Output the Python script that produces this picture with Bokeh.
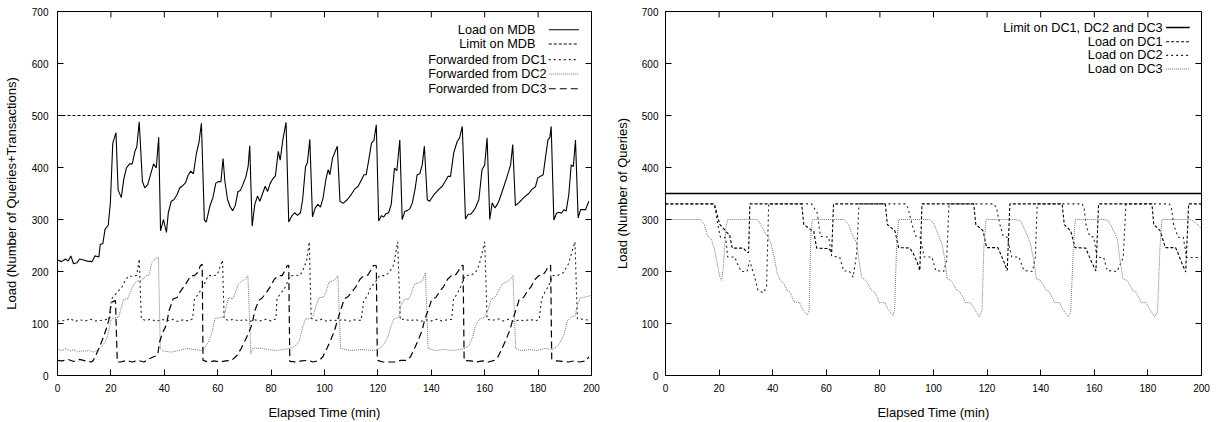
from bokeh.plotting import figure
from bokeh.layouts import row
from bokeh.models import FixedTicker, Range1d, Label
from bokeh.embed import file_html
from bokeh.resources import INLINE

FONT = "Liberation Sans"

X_TICKS = [0, 20, 40, 60, 80, 100, 120, 140, 160, 180, 200]
Y_TICKS = [0, 100, 200, 300, 400, 500, 600, 700]
X_LABEL = "Elapsed Time (min)"
Y_LABEL_LEFT = "Load (Number of Queries+Transactions)"
Y_LABEL_RIGHT = "Load (Number of Queries)"

# ---------------- left panel data (time min, load) ----------------
MDB_LOAD = [(0, 222), (1.5, 219), (3, 224), (4, 220), (5, 230), (6, 215), (7.3, 217), (8.3, 224), (9.8, 222),
            (11.2, 220), (13, 219), (14, 230), (15.5, 228), (16, 252), (17, 254), (17.8, 281), (19, 289),
            (19.8, 332), (20.7, 447), (21.9, 467), (22.7, 357), (23.9, 342), (24.8, 377), (25.8, 399),
            (27, 407), (28, 407), (29, 431), (29.7, 440), (30.6, 488), (31.8, 373), (32.7, 361), (33.8, 367),
            (35, 389), (36, 407), (37, 399), (37.9, 458), (38.6, 278), (39.7, 300), (40.8, 275), (41.5, 313),
            (42.6, 335), (43.6, 338), (44.8, 348), (45.8, 361), (46.9, 365), (48, 371), (48.8, 384),
            (49.9, 393), (50.9, 388), (52, 426), (53, 449), (53.9, 485), (55, 299), (55.7, 295), (57.1, 326),
            (58.2, 342), (59.3, 370), (60.3, 373), (61.2, 372), (62, 417), (62.7, 373), (63.7, 338),
            (64.7, 324), (65.6, 317), (66.6, 327), (67.6, 354), (68.5, 356), (69.5, 368), (70.6, 383),
            (71.4, 402), (72, 442), (72.9, 287), (73.9, 329), (74.9, 345), (75.8, 335), (76.8, 350),
            (77.8, 364), (78.7, 354), (79.7, 370), (80.5, 377), (81.6, 384), (82.7, 431), (83.4, 414),
            (84.4, 453), (85.6, 487), (86.6, 295), (87.8, 307), (88.8, 313), (89.9, 308), (91, 313),
            (91.8, 338), (92.9, 402), (93.6, 409), (94.5, 454), (95.5, 305), (96.5, 322), (97.5, 329),
            (98.5, 324), (99.5, 342), (100.5, 377), (101.4, 396), (102, 386), (103, 418), (104.8, 441),
            (105.8, 335), (107, 331), (108.5, 338), (110, 348), (111.4, 359), (112.6, 364), (113.9, 377),
            (114.8, 386), (115.6, 386), (116.6, 415), (117.6, 447), (118.5, 452), (119.4, 482), (120.3, 297),
            (121.3, 307), (122.2, 305), (123, 311), (124, 313), (125, 329), (126.2, 399), (127.1, 394),
            (128.2, 453), (129.1, 300), (130.1, 316), (131, 317), (132, 321), (132.9, 332), (133.9, 358),
            (134.7, 386), (135.7, 388), (136.6, 405), (137.4, 441), (138.5, 338), (139.4, 335), (141, 348),
            (142.8, 358), (144.1, 364), (145.3, 374), (146.3, 383), (147.2, 383), (148.4, 428), (149.7, 450),
            (150.6, 457), (151.6, 479), (152.8, 301), (153.8, 310), (154.7, 310), (155.7, 316), (156.5, 322),
            (157.8, 338), (159, 396), (160, 405), (160.9, 457), (161.9, 300), (162.8, 332), (163.8, 322),
            (164.7, 329), (165.5, 338), (167.2, 364), (168.4, 383), (169.7, 405), (170.5, 444), (171.5, 327),
            (172.7, 332), (173.9, 338), (175.2, 345), (176.5, 350), (177.7, 358), (179, 363), (179.9, 380),
            (180.9, 383), (181.9, 386), (182.8, 421), (183.7, 453), (184.4, 458), (184.9, 479), (185.9, 299),
            (186.9, 312), (187.8, 314), (188.7, 312), (189.7, 319), (190.5, 316), (191.5, 348), (192.4, 405),
            (193.2, 402), (194, 453), (195, 303), (195.9, 319), (196.9, 319), (197.8, 319), (199, 335)]

MDB_LIMIT = 500

DC1_FWD = [(0, 104), (1.5, 106), (3, 105), (4.7, 110), (6.5, 104), (8.5, 107), (10.5, 105), (12.4, 108),
           (14.3, 105), (16.3, 106), (18.5, 108), (19.6, 110), (20.2, 147), (21.4, 154), (22.9, 163),
           (23.9, 168), (25, 179), (26.5, 191), (28.7, 191), (29.7, 193), (30.6, 224), (31.4, 109), (33, 106),
           (35, 108), (37, 104), (39, 108), (41, 105), (43, 108), (45, 104), (47, 107), (49, 105), (50.6, 109),
           (51.3, 147), (52.8, 157), (53.9, 166), (55, 176), (56.4, 192), (58.3, 192), (59.8, 193), (60.8, 208),
           (61.8, 222), (62.4, 109), (64, 106), (66, 108), (68, 105), (70, 108), (72, 104), (74, 107), (76, 105),
           (78, 108), (80, 105), (81.8, 109), (82.2, 147), (83.4, 157), (84.5, 163), (85.6, 173), (87, 191),
           (88.9, 193), (90.7, 192), (91.8, 201), (93.3, 221), (94.3, 257), (95, 110), (97, 106), (99, 108),
           (101, 104), (103, 107), (105, 105), (107, 108), (109, 104), (111, 107), (113.7, 106), (114.7, 144),
           (116.2, 154), (117.3, 170), (119, 179), (120.6, 192), (122.7, 192), (124.2, 198), (126, 214),
           (127.4, 257), (128.4, 107), (130, 109), (132, 105), (134, 108), (136, 104), (138, 107), (140, 105),
           (142, 108), (144, 105), (146, 107), (147.6, 108), (148.3, 147), (149.7, 157), (151.2, 173),
           (152.6, 192), (154.8, 193), (156.6, 198), (158, 214), (160, 257), (160.9, 108), (163, 106),
           (165, 109), (167, 105), (169, 108), (171, 104), (173, 107), (175, 105), (177, 108), (179, 105),
           (180.4, 108), (181.3, 147), (182.5, 160), (184, 173), (185.4, 192), (187.6, 193), (189.5, 198),
           (191.3, 214), (193.8, 257), (194.7, 109), (197, 108), (199.3, 106)]

DC2_FWD = [(0, 50), (1.7, 48), (3.2, 52), (4.7, 47), (6.1, 50), (7.6, 45), (9, 47), (10.5, 47), (12, 48),
           (13.4, 45), (14.9, 48), (16.3, 55), (17.8, 64), (19, 80), (20, 106), (21, 110), (22.2, 112),
           (22.9, 112), (23.6, 125), (24.8, 147), (26.2, 147), (27.3, 160), (28.7, 176), (29.7, 182),
           (30.9, 182), (32.1, 185), (33.1, 192), (34.3, 193), (35.3, 217), (36.7, 225), (37.8, 227),
           (38.5, 52), (39.7, 47), (42.6, 45), (45.5, 48), (48.4, 52), (51.3, 50), (54.2, 48), (55, 52),
           (56.4, 64), (57.9, 83), (58.9, 109), (60.8, 112), (62.2, 112), (63, 128), (64.1, 150), (65.6, 147),
           (66.6, 160), (67.8, 176), (69.1, 182), (70.3, 185), (71.3, 192), (72.4, 42), (73.2, 53), (76.1, 52),
           (79, 50), (81.9, 48), (84.8, 50), (87.8, 53), (89.2, 58), (90.7, 68), (91.8, 93), (92.9, 109),
           (94.3, 109), (95.8, 115), (96.8, 134), (98, 150), (99.4, 150), (100.6, 160), (101.6, 179),
           (103.1, 182), (104.1, 185), (105, 192), (106, 52), (109.6, 48), (114, 50), (118.4, 48), (120.6, 52),
           (122, 58), (123.5, 71), (125, 96), (126, 109), (127.8, 112), (128.6, 134), (130, 147), (131.5, 147),
           (132.7, 161), (133.8, 176), (135.3, 178), (136.6, 182), (137.8, 198), (138.8, 52), (141.7, 48),
           (144.6, 50), (147.5, 48), (150.4, 50), (152.6, 52), (154.1, 58), (155.5, 74), (156.6, 96),
           (158, 108), (159.9, 112), (161.4, 128), (162.4, 147), (163.8, 150), (165, 161), (166.5, 176),
           (167.9, 179), (169.4, 184), (170.6, 192), (171.6, 52), (173.8, 48), (176.7, 50), (179.6, 48),
           (182.5, 52), (185.4, 50), (186.9, 55), (188.3, 64), (189.8, 80), (191, 106), (192.4, 112),
           (193.9, 115), (194.5, 131), (195.7, 149), (197.1, 150), (198.5, 152), (199.7, 154)]

DC3_FWD = [(0, 29), (1.7, 28), (3.9, 31), (6.1, 27), (8.3, 31), (10.5, 28), (12.7, 26), (13.4, 29),
           (14.9, 45), (16, 58), (17, 71), (18.1, 87), (19.2, 106), (20, 136), (20.7, 142), (21.7, 144),
           (22.4, 26), (23.6, 26), (25.8, 29), (28, 26), (30.2, 29), (32.4, 26), (33.8, 31), (36, 36),
           (37.5, 39), (38.2, 64), (39.4, 83), (40.4, 93), (41.1, 106), (41.8, 125), (43.3, 147), (44.8, 150),
           (45.8, 160), (46.9, 168), (48.4, 179), (49.9, 192), (51.3, 192), (52.5, 198), (53.5, 211),
           (54.2, 214), (54.5, 29), (56.4, 26), (58.6, 28), (60.8, 26), (63, 28), (65.2, 29), (67.3, 39),
           (68.8, 52), (70.3, 68), (71.7, 83), (72.9, 99), (73.9, 125), (75.4, 144), (76.8, 150), (78.3, 160),
           (79.7, 171), (81.2, 185), (82.7, 192), (84.1, 192), (85.1, 201), (86, 211), (86.6, 212), (87, 27),
           (89.2, 26), (91.4, 28), (93.6, 29), (95.8, 26), (98, 29), (99.4, 36), (100.9, 52), (102.3, 68),
           (103.8, 87), (105, 109), (106, 125), (107.4, 147), (108.9, 152), (110.3, 161), (111.8, 171),
           (113.3, 185), (114.7, 192), (116.2, 193), (117.2, 201), (118.4, 212), (119.4, 211), (119.8, 29),
           (122, 26), (124.2, 26), (126.4, 26), (128.6, 29), (130.8, 29), (132.2, 36), (133.7, 52), (135.1, 68),
           (136.6, 87), (137.6, 109), (138.8, 125), (140.2, 147), (141.7, 150), (143.1, 161), (144.6, 171),
           (146.1, 185), (147.5, 192), (149, 193), (150.1, 201), (151.2, 211), (151.9, 212), (152.3, 29),
           (154.8, 28), (157, 26), (159.2, 28), (161.4, 26), (163.6, 29), (165, 36), (166.5, 52), (167.9, 68),
           (169.4, 87), (170.6, 109), (171.6, 125), (173, 147), (174.5, 150), (175.9, 161), (177.4, 171),
           (178.9, 185), (180.3, 192), (181.8, 193), (182.9, 201), (184, 211), (184.7, 212), (185.1, 32),
           (186.9, 28), (189.1, 27), (191.3, 26), (193.5, 28), (195.7, 26), (197.9, 28), (199, 36)]

# ---------------- right panel data ----------------
DC_LIMIT = 350

DC1_LOAD = [(0, 330), (18.3, 330), (19.2, 310), (20.3, 290), (21.4, 284), (22.9, 275), (23.9, 271),
            (24.9, 245), (29, 245), (30.4, 237), (31, 236), (31.5, 330), (50.8, 330), (51.6, 290), (53, 285),
            (54, 281), (55.3, 278), (56.4, 245), (61, 244), (62, 236), (62.7, 330), (82, 330), (82.8, 290),
            (84.3, 284), (85.6, 278), (87, 246), (91.2, 245), (92.5, 234), (93.9, 218), (94.9, 202),
            (95.7, 330), (115, 330), (115.8, 290), (117.3, 284), (118.5, 278), (119.8, 246), (124, 246),
            (125.2, 232), (126.4, 217), (127.5, 202), (128.5, 330), (148, 330), (148.8, 290), (150, 284),
            (151.2, 278), (152.8, 246), (156.8, 245), (158, 230), (159.2, 216), (160.6, 201), (161.6, 330),
            (181.5, 330), (182.2, 290), (183.5, 284), (184.6, 278), (186.5, 246), (190.3, 246), (191.5, 232),
            (192.5, 218), (194.1, 199), (195.2, 330), (200, 330)]

DC2_LOAD = [(0, 330), (17.5, 330), (18.5, 322), (19.5, 290), (20.5, 266), (22.5, 265), (23.2, 228),
            (25.8, 228), (26.8, 215), (28.3, 200), (30.4, 200), (31.4, 221), (33.3, 189), (34.5, 164),
            (36.5, 159), (37.7, 170), (38.5, 330), (54.5, 330), (56.6, 313), (57.8, 268), (60.9, 266),
            (62, 230), (65, 227), (66.5, 201), (68.5, 201), (70, 189), (71.3, 233), (72.2, 330), (89.5, 330),
            (90.5, 322), (92, 290), (93.4, 268), (95, 266), (96.5, 228), (99.4, 228), (100.8, 202),
            (103.8, 200), (104.9, 221), (105.8, 330), (122.5, 330), (123.5, 322), (124.8, 290), (126, 268),
            (127.5, 266), (129.2, 228), (131.9, 228), (133.7, 202), (136.9, 200), (138, 227), (138.7, 330),
            (155.5, 330), (156.2, 322), (156.9, 290), (158.3, 268), (159.8, 266), (161, 227), (163.5, 227),
            (164.8, 202), (168.5, 200), (170.8, 227), (171.8, 330), (188, 330), (188.8, 322), (189.6, 290),
            (191.3, 266), (193.2, 266), (194.4, 227), (200, 227)]

DC3_LOAD = [(0, 300), (13, 300), (14.5, 290), (15.7, 268), (17.1, 262), (18.1, 246), (19.1, 221), (20.3, 189),
            (21, 183), (21.7, 215), (22.5, 284), (23.2, 300), (34, 300), (34.8, 297), (36.2, 284), (37.4, 272),
            (38.4, 265), (39.4, 253), (40.6, 227), (41.7, 196), (42.8, 183), (44.2, 177), (45.2, 164),
            (46.4, 161), (47.1, 154), (47.8, 142), (50, 140), (51, 129), (52.2, 120), (52.9, 116), (53.6, 126),
            (54.3, 278), (54.8, 300), (66.7, 300), (68.4, 290), (69.3, 275), (70.3, 265), (71.3, 256),
            (72.2, 221), (73.2, 189), (74.6, 183), (75.7, 175), (76.8, 164), (78, 161), (79, 151), (79.7, 140),
            (81.9, 140), (82.9, 129), (84.1, 120), (84.8, 115), (85.5, 126), (86.2, 246), (87, 300),
            (98.6, 300), (100, 294), (101.2, 278), (102.2, 265), (103.2, 253), (104.1, 227), (105.1, 186),
            (106.5, 183), (107.5, 175), (108.7, 164), (109.7, 161), (110.9, 151), (111.9, 140), (113.8, 140),
            (115.2, 129), (116.2, 120), (117.1, 113), (118.1, 126), (118.8, 246), (119.6, 300), (130.4, 300),
            (132.6, 297), (134, 281), (135.1, 268), (136.2, 253), (137.4, 221), (138.4, 186), (139.9, 183),
            (140.9, 175), (142, 164), (143.2, 161), (144.2, 151), (145.2, 140), (147.1, 140), (148.1, 129),
            (149.3, 120), (150.3, 113), (151.2, 123), (152.2, 246), (152.9, 300), (163.8, 300), (165.2, 298),
            (166.7, 284), (167.7, 272), (168.6, 262), (169.6, 221), (170.7, 186), (172.2, 183), (173.2, 175),
            (174.3, 164), (175.4, 161), (176.5, 151), (177.5, 140), (179.4, 140), (180.4, 129), (181.6, 120),
            (182.6, 113), (183.6, 123), (184.5, 246), (185.2, 300), (195.7, 300), (197.1, 296), (198.6, 290),
            (199.7, 284)]

X_SPAN = [0, 200]
X_MAX = 200
Y_MAX = 700
TICK_PX = 6


def split(pairs):
    return [a for a, _ in pairs], [b for _, b in pairs]


def style_axis(ax, ticks, label_standoff, title_standoff):
    ax.ticker = FixedTicker(ticks=ticks)
    ax.major_tick_in = TICK_PX
    ax.major_tick_out = 0
    ax.minor_tick_line_color = None
    ax.axis_line_color = "black"
    ax.axis_line_width = 1
    ax.major_tick_line_color = "black"
    ax.major_tick_line_width = 1
    ax.major_label_text_font = FONT
    ax.major_label_text_color = "black"
    ax.major_label_text_font_size = "10px"
    ax.major_label_standoff = label_standoff
    ax.axis_label_text_font = FONT
    ax.axis_label_text_font_size = "13px"
    ax.axis_label_text_font_style = "normal"
    ax.axis_label_text_color = "black"
    ax.axis_label_standoff = title_standoff


def make_fig(width, height, bl, br, bt, bb, ylabel, ylab_standoff, ytitle_standoff):
    p = figure(width=width, height=height, x_range=Range1d(0, X_MAX), y_range=Range1d(0, Y_MAX),
               output_backend="svg", toolbar_location=None,
               min_border_left=bl, min_border_right=br, min_border_top=bt, min_border_bottom=bb)
    p.xgrid.visible = False
    p.ygrid.visible = False
    p.outline_line_color = "black"
    p.outline_line_width = 1
    p.background_fill_color = "white"
    p.border_fill_color = "white"
    style_axis(p.xaxis[0], X_TICKS, 8, 10)
    style_axis(p.yaxis[0], Y_TICKS, ylab_standoff, ytitle_standoff)
    p.xaxis[0].axis_label = X_LABEL
    p.yaxis[0].axis_label = ylabel
    # mirrored inward ticks on top and right frame edges (gnuplot style)
    fw = width - bl - br
    fh = height - bt - bb
    dy = TICK_PX * Y_MAX / fh
    dx = TICK_PX * X_MAX / fw
    p.segment(x0=X_TICKS, y0=[Y_MAX] * len(X_TICKS), x1=X_TICKS, y1=[Y_MAX - dy] * len(X_TICKS),
              line_color="black", line_width=1)
    p.segment(x0=[X_MAX] * len(Y_TICKS), y0=Y_TICKS, x1=[X_MAX - dx] * len(Y_TICKS), y1=Y_TICKS,
              line_color="black", line_width=1)
    return p


def legend_entry(p, text, x_text, x0, x1, y, color, dash, width=1.0):
    p.add_layout(Label(x=x_text, y=y, text=text, text_align="right", text_baseline="middle",
                       text_font=FONT, text_font_size="12.7px", text_color="black"))
    p.line([x0, x1], [y, y], line_color=color, line_dash=dash, line_width=width)


# ---------------- left ----------------
p1 = make_fig(608, 422, 57, 17, 11, 45, Y_LABEL_LEFT, 9, 10)

STYLE_MDB = dict(line_color="black", line_width=1.1)
STYLE_LIM = dict(line_color="black", line_width=1, line_dash="3 2")
STYLE_F1 = dict(line_color="#222222", line_width=1.1, line_dash="2 3")
STYLE_F2 = dict(line_color="#777777", line_width=1, line_dash="1 1")
STYLE_F3 = dict(line_color="black", line_width=1.2, line_dash="7 4")

x, y = split(MDB_LOAD)
p1.line(x, y, **STYLE_MDB)
p1.line(X_SPAN, [MDB_LIMIT, MDB_LIMIT], **STYLE_LIM)
x, y = split(DC1_FWD)
p1.line(x, y, **STYLE_F1)
x, y = split(DC2_FWD)
p1.line(x, y, **STYLE_F2)
x, y = split(DC3_FWD)
p1.line(x, y, **STYLE_F3)

legend_entry(p1, "Load on MDB", 179.0, 184.0, 195.3, 664.8, "black", "solid", 1.1)
legend_entry(p1, "Limit on MDB", 179.0, 184.0, 195.3, 637.5, "black", "3 2")
legend_entry(p1, "Forwarded from DC1", 183.2, 184.0, 195.3, 607.5, "#222222", "2 3", 1.1)
legend_entry(p1, "Forwarded from DC2", 183.2, 184.0, 195.3, 579.7, "#777777", "1 1")
legend_entry(p1, "Forwarded from DC3", 183.2, 184.0, 195.3, 551.4, "black", "7 4", 1.2)

# ---------------- right ----------------
p2 = make_fig(612, 422, 57, 19, 11, 42, Y_LABEL_RIGHT, 7, 9)

STYLE_DCLIM = dict(line_color="black", line_width=1.4)
STYLE_D1 = dict(line_color="black", line_width=1.1, line_dash="3 2")
STYLE_D2 = dict(line_color="#222222", line_width=1.1, line_dash="2 3")
STYLE_D3 = dict(line_color="#777777", line_width=1, line_dash="1 1")

p2.line(X_SPAN, [DC_LIMIT, DC_LIMIT], **STYLE_DCLIM)
x, y = split(DC1_LOAD)
p2.line(x, y, **STYLE_D1)
x, y = split(DC2_LOAD)
p2.line(x, y, **STYLE_D2)
x, y = split(DC3_LOAD)
p2.line(x, y, **STYLE_D3)

legend_entry(p2, "Limit on DC1, DC2 and DC3", 185.5, 186.8, 195.6, 669.1, "black", "solid", 1.4)
legend_entry(p2, "Load on DC1", 185.5, 186.8, 195.6, 641.8, "black", "3 2", 1.1)
legend_entry(p2, "Load on DC2", 185.5, 186.8, 195.6, 615.6, "#222222", "2 3", 1.1)
legend_entry(p2, "Load on DC3", 185.5, 186.8, 195.6, 589.4, "#777777", "1 1")

layout = row(p1, p2)
open("out.html", "w").write(file_html(layout, INLINE))
